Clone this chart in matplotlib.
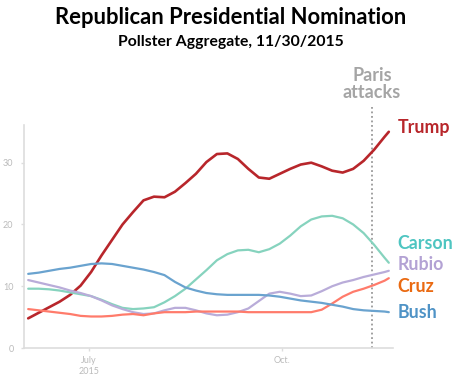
import pandas as pd
import matplotlib.pyplot as plt
import matplotlib.dates as mdates

# poll dates (every 5 days from early June, last point 11/21)
dates = list(pd.date_range('2015-06-02', periods=35, freq='5D')) + [pd.Timestamp('2015-11-21')]

trump = [4.8, 5.7, 6.6, 7.5, 8.6, 10.1, 12.3, 15.0, 17.5, 20.0, 22.0, 23.9,
         24.5, 24.4, 25.3, 26.7, 28.2, 30.1, 31.4, 31.5, 30.6, 29.0, 27.6, 27.4,
         28.2, 29.0, 29.7, 30.0, 29.4, 28.7, 28.4, 29.0, 30.3, 32.1, 34.2, 35.0]
carson = [9.6, 9.6, 9.5, 9.3, 9.0, 8.7, 8.4, 7.8, 7.1, 6.5, 6.3, 6.4,
          6.6, 7.4, 8.4, 9.6, 11.1, 12.6, 14.2, 15.2, 15.8, 15.9, 15.5, 16.0,
          16.9, 18.2, 19.7, 20.8, 21.3, 21.4, 21.0, 20.0, 18.6, 16.7, 14.6, 13.8]
rubio = [11.0, 10.6, 10.2, 9.8, 9.3, 8.9, 8.4, 7.7, 6.9, 6.3, 5.8, 5.5,
         5.6, 6.1, 6.5, 6.5, 6.1, 5.6, 5.3, 5.4, 5.8, 6.4, 7.6, 8.8,
         9.1, 8.8, 8.4, 8.5, 9.2, 10.0, 10.6, 11.0, 11.5, 11.9, 12.3, 12.5]
cruz = [6.3, 6.1, 5.9, 5.7, 5.5, 5.2, 5.1, 5.1, 5.2, 5.4, 5.5, 5.3,
        5.6, 5.8, 5.8, 5.8, 5.9, 5.9, 5.9, 5.9, 5.9, 5.8, 5.8, 5.8,
        5.8, 5.8, 5.8, 5.8, 6.2, 7.2, 8.3, 9.1, 9.6, 10.2, 10.9, 11.3]
bush = [12.0, 12.2, 12.5, 12.8, 13.0, 13.3, 13.6, 13.7, 13.6, 13.3, 13.0, 12.7,
        12.3, 11.8, 10.7, 9.8, 9.3, 8.9, 8.7, 8.6, 8.6, 8.6, 8.6, 8.5,
        8.3, 8.0, 7.7, 7.5, 7.3, 7.0, 6.7, 6.3, 6.1, 6.0, 5.9, 5.8]

paris_date = pd.Timestamp('2015-11-13')
yticks = [0, 10, 20, 30]
xtick_dates = [pd.Timestamp('2015-07-01'), pd.Timestamp('2015-10-01')]
xtick_labels = ['July\n2015', 'Oct.']

# (series, line colour, label colour, label y)
series = [
    ('Trump', trump, '#b8262b', '#b8262b', 35.7),
    ('Carson', carson, '#86d3be', '#4ec5c1', 16.9),
    ('Rubio', rubio, '#b9acd9', '#b3a2d4', 13.5),
    ('Cruz', cruz, '#ff7b6b', '#ea6a12', 10.0),
    ('Bush', bush, '#6aa3cf', '#4f93c6', 5.7),
]

plt.rcParams['font.family'] = ['Lato', 'DejaVu Sans']

fig = plt.figure(figsize=(4.61, 3.79), dpi=100)
ax = fig.add_axes([24 / 461, 31 / 379, 369 / 461, 223 / 379])

for name, vals, lc, tc, ly in series:
    lw = 1.9 if name == 'Trump' else 1.6
    ax.plot(dates, vals, color=lc, lw=lw, solid_capstyle='round', zorder=3)
    ax.text(1.013, ly, name, transform=ax.get_yaxis_transform(), color=tc,
            fontsize=12.8, fontweight='bold', va='center', ha='left', clip_on=False)

ax.axvline(paris_date, ymin=0, ymax=1.08, color='#999999', lw=1.3, ls=(0, (1, 1.5)),
           clip_on=False, zorder=2)
ax.text(paris_date, 42.8, 'Paris\nattacks', ha='center', va='center', color='#a5a5a5',
        fontsize=13, fontweight='bold', linespacing=1.0, clip_on=False)

ax.set_ylim(0, 36.1)
ax.set_xlim(pd.Timestamp('2015-05-31'), pd.Timestamp('2015-11-23'))
ax.set_yticks(yticks)
ax.set_xticks(xtick_dates)
ax.set_xticklabels(xtick_labels)
ax.tick_params(colors='#dddddd', labelcolor='#bbbbbb', labelsize=6.5, length=2.5, width=1)
ax.tick_params(axis='y', pad=5)
for side in ['top', 'right']:
    ax.spines[side].set_visible(False)
for side in ['left', 'bottom']:
    ax.spines[side].set_color('#dddddd')
    ax.spines[side].set_linewidth(1.2)

fig.text(0.5, 1 - 18 / 379, 'Republican Presidential Nomination', ha='center', va='center',
         fontsize=15.8, fontweight='bold', color='black')
fig.text(0.5, 1 - 42 / 379, 'Pollster Aggregate, 11/30/2015', ha='center', va='center',
         fontsize=11.3, fontweight='bold', color='black')

fig.savefig('out.png', dpi=100)
